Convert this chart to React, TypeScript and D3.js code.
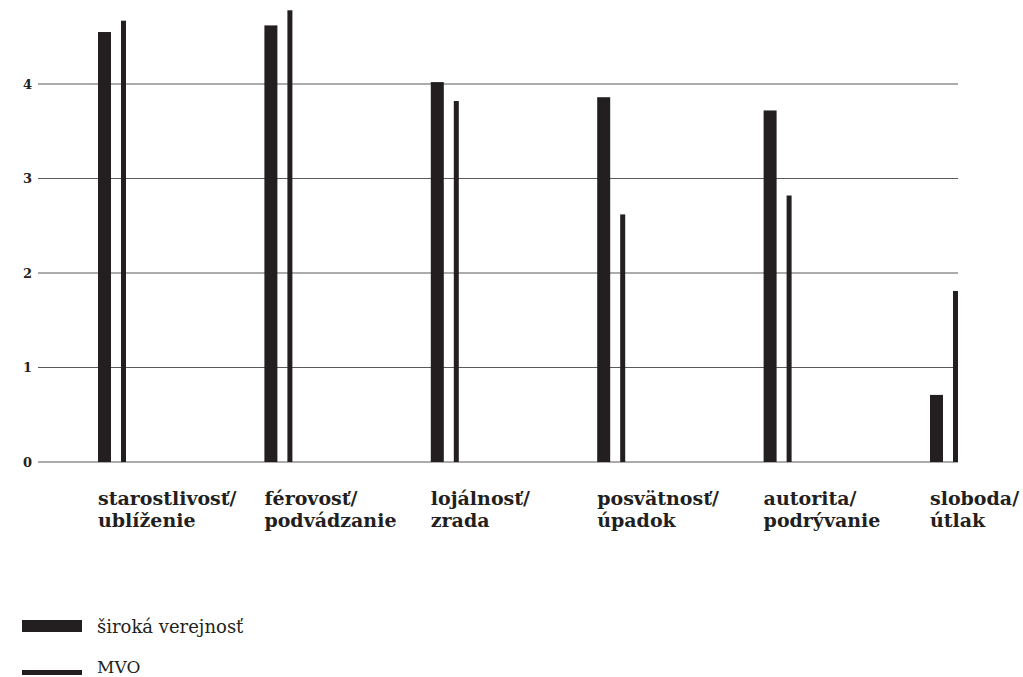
import React from "react";
import * as d3 from "d3";

const categoryLines: string[][] = [
  ["starostlivosť/", "ublíženie"],
  ["férovosť/", "podvádzanie"],
  ["lojálnosť/", "zrada"],
  ["posvätnosť/", "úpadok"],
  ["autorita/", "podrývanie"],
  ["sloboda/", "útlak"],
];
const categoryKeys = categoryLines.map((l) => l.join(""));
const publicValues = [4.55, 4.62, 4.02, 3.86, 3.72, 0.71];
const mvoValues = [4.67, 4.78, 3.82, 2.62, 2.82, 1.81];
const yTicks = [0, 1, 2, 3, 4];
const legendLabels = ["široká verejnosť", "MVO"];

const W = 1023;
const H = 677;
const INK = "#231f20";
const SERIF = "'DejaVu Serif', serif";

export default function App() {
  const x = d3
    .scaleBand<string>()
    .domain(categoryKeys)
    .range([98, 98 + 166.4 * categoryKeys.length])
    .paddingInner(0)
    .paddingOuter(0);
  const y = d3.scaleLinear().domain([0, 4]).range([462, 84]);
  const gridX0 = 38;
  const gridX1 = 958;

  return (
    <svg
      width={W}
      height={H}
      style={{ position: "absolute", left: 0, top: 0, background: "#fff" }}
    >
      {yTicks.map((t) => (
        <g key={t}>
          <line
            x1={gridX0}
            x2={gridX1}
            y1={y(t)}
            y2={y(t)}
            stroke="#5a5a5a"
            strokeWidth={1.2}
          />
          <text
            x={32}
            y={y(t)}
            dy="0.35em"
            textAnchor="end"
            fontFamily={SERIF}
            fontWeight="bold"
            fontSize={13}
            fill={INK}
          >
            {t}
          </text>
        </g>
      ))}
      {categoryKeys.map((k, i) => {
        const x0 = x(k) as number;
        return (
          <g key={k}>
            <rect
              x={x0}
              y={y(publicValues[i])}
              width={13}
              height={y(0) - y(publicValues[i])}
              fill={INK}
            />
            <rect
              x={x0 + 23}
              y={y(mvoValues[i])}
              width={5}
              height={y(0) - y(mvoValues[i])}
              fill={INK}
            />
            {categoryLines[i].map((line, j) => (
              <text
                key={j}
                x={x0}
                y={505 + j * 22}
                fontFamily={SERIF}
                fontWeight="bold"
                fontSize={19}
                fill={INK}
              >
                {line}
              </text>
            ))}
          </g>
        );
      })}
      <rect x={22} y={620} width={60} height={12} fill={INK} />
      <text x={97} y={633} fontFamily={SERIF} fontSize={18} fill={INK}>
        {legendLabels[0]}
      </text>
      <rect x={22} y={670} width={60} height={5} fill={INK} />
      <text x={97} y={673} fontFamily={SERIF} fontSize={17} fill={INK}>
        {legendLabels[1]}
      </text>
    </svg>
  );
}
